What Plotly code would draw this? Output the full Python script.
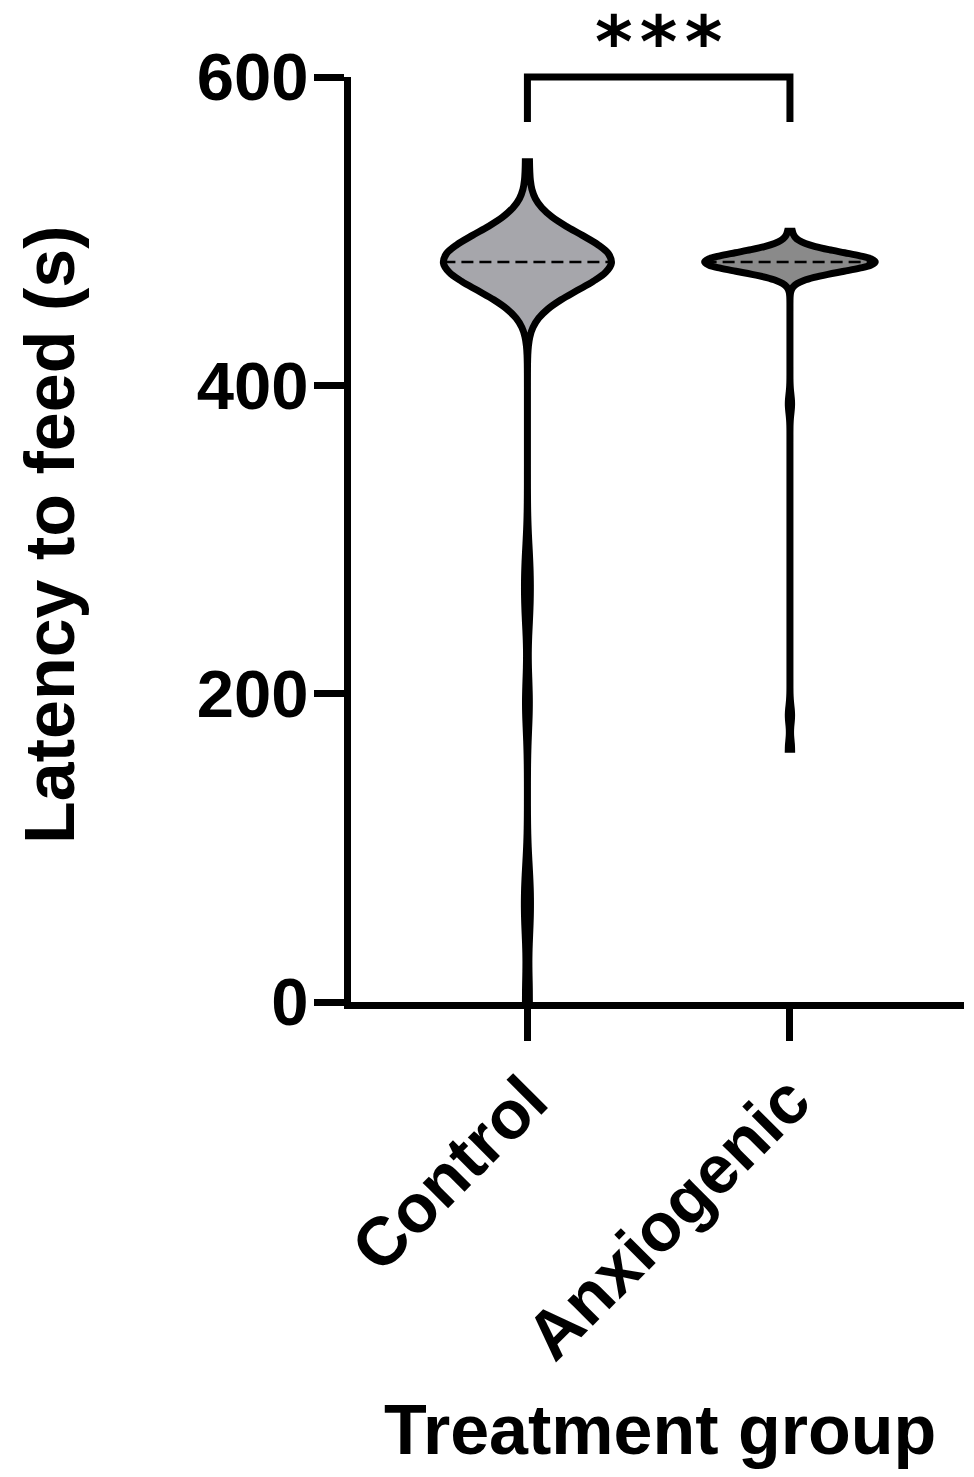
import numpy as np
import plotly.graph_objects as go

# ---------------- data ----------------
groups = ["Control", "Anxiogenic"]
control_latency = [
    470, 473, 475, 476, 477, 478, 478, 479, 479, 479,
    480, 480, 480, 480, 480, 480, 480, 480, 480, 480,
    480, 480, 480, 480, 480, 480, 480, 480, 480, 480,
    480, 480, 480, 480, 480,
    481, 481, 482, 483, 484, 485, 486, 488, 490, 492,
    545,
    282, 256,
    194,
    76, 52,
    2,
]
anxiogenic_latency = [
    474, 475, 476, 477, 477, 478, 478, 479, 479, 479,
    480, 480, 480, 480, 480, 480, 480, 480, 480, 480,
    480, 480, 480, 480, 480, 480, 480, 480, 480, 480,
    480, 480, 480, 480, 480, 480, 480, 480, 480, 480,
    480, 480, 480, 480, 480,
    481, 481, 481, 482, 482, 483, 484, 485, 486, 488,
    500,
    388,
    186,
    164,
]
y_ticks = [0, 200, 400, 600]
significance = "*\u200a*\u200a*"

# ---------------- styling ----------------
FONT = "Liberation Sans, Arial, sans-serif"
OFF = 8                      # page body margin of the html page
W, H = 974 - 2 * OFF, 1477 - OFF
L, R, T, B = 343, 2, 69, 475
plot_w = W - L - R
plot_h = H - T - B
x_range = [-0.672, 1.663]
y_range = [0, 600]
bandwidths = [18, 6]
widths = [0.64, 0.65]
fills = ["rgb(166,166,171)", "rgb(138,138,138)"]
series = [control_latency, anxiogenic_latency]


def px_to_xpaper(px):           # px: page pixel
    return (px - OFF - L) / plot_w


def px_to_ypaper(py):
    return (H - B - (py - OFF)) / plot_h


def data_to_xpaper(xv):
    return (xv - x_range[0]) / (x_range[1] - x_range[0])


def kde_ratio(vals, bw, at):
    vals = np.asarray(vals, float)
    lo, hi = vals.min(), vals.max()
    n = int(np.ceil((hi - lo) / (bw / 3.0)))
    grid = np.linspace(lo, hi, n + 1)
    dens = lambda x: np.exp(-0.5 * ((x - vals) / bw) ** 2).sum()
    dmax = max(dens(g) for g in grid)
    return min(1.0, dens(at) / dmax)


fig = go.Figure()
shapes = []
for i, (name, vals) in enumerate(zip(groups, series)):
    fig.add_trace(go.Violin(
        y=vals, x0=i, name=name,
        width=widths[i], bandwidth=bandwidths[i], spanmode="hard",
        scalemode="width", points=False,
        box=dict(visible=False), meanline=dict(visible=False),
        fillcolor=fills[i], opacity=1,
        line=dict(color="black", width=7),
        showlegend=False, hoverinfo="skip",
    ))
    med = float(np.median(vals))
    half = widths[i] / 2 * kde_ratio(vals, bandwidths[i], med)
    shapes.append(dict(type="line", xref="x", yref="y",
                       x0=i - half, x1=i + half, y0=med, y1=med,
                       line=dict(color="black", width=2.5, dash="12px,6px")))

# significance bracket (paper coords derived from axis ranges)
top = 1.0
leg = px_to_ypaper(122)
xa, xb = data_to_xpaper(0), data_to_xpaper(1)
shapes.append(dict(type="path", xref="paper", yref="paper",
                   path=f"M {xa},{leg} L {xa},{top} L {xb},{top} L {xb},{leg}",
                   line=dict(color="black", width=7)))

annotations = [
    dict(text=significance, xref="paper", yref="paper",
         x=data_to_xpaper(0.5), y=px_to_ypaper(42),
         xanchor="center", yanchor="middle", showarrow=False,
         font=dict(family="DejaVu Sans", size=72, color="black", weight="bold")),
    dict(text="Latency to feed (s)", xref="paper", yref="paper",
         x=px_to_xpaper(50), y=px_to_ypaper(535), textangle=-90,
         xanchor="center", yanchor="middle", showarrow=False,
         font=dict(family=FONT, size=70, color="black", weight="bold")),
    dict(text="Treatment group", xref="paper", yref="paper",
         x=px_to_xpaper(660), y=px_to_ypaper(1430),
         xanchor="center", yanchor="middle", showarrow=False,
         font=dict(family=FONT, size=70, color="black", weight="bold")),
]

fig.update_layout(
    width=W, height=H,
    margin=dict(l=L, r=R, t=T, b=B, autoexpand=False),
    paper_bgcolor="white", plot_bgcolor="white",
    violinmode="overlay",
    shapes=shapes, annotations=annotations,
    font=dict(family=FONT, color="black"),
)
fig.update_xaxes(
    range=x_range, tickvals=[0, 1], ticktext=groups, tickangle=-45,
    showline=True, linewidth=7, linecolor="black",
    ticks="outside", ticklen=32, tickwidth=7, tickcolor="black",
    showgrid=False, zeroline=False, automargin=False, ticklabelstandoff=-8,
    tickfont=dict(family=FONT, size=68, color="black", weight="bold"),
)
fig.update_yaxes(
    range=y_range, tickvals=y_ticks,
    showline=True, linewidth=7, linecolor="black",
    ticks="outside", ticklen=30, tickwidth=7, tickcolor="black",
    showgrid=False, zeroline=False, automargin=False, ticklabelstandoff=-8,
    tickfont=dict(family=FONT, size=67, color="black", weight="bold"),
)

fig.write_html("out.html")
